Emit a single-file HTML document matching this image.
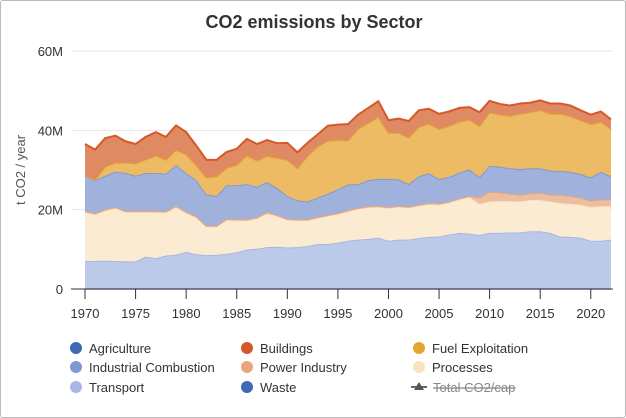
<!DOCTYPE html>
<html><head><meta charset="utf-8"><style>
body{margin:0;background:#fff;font-family:"Liberation Sans",sans-serif;}
#wrap{position:relative;width:624px;height:416px;border:1px solid #bbb;border-radius:3px;overflow:hidden;}
svg text{font-family:"Liberation Sans",sans-serif;}
</style></head><body>
<div id="wrap">
<svg id="chart" width="626" height="418">
<text x="313" y="27" text-anchor="middle" font-size="18" font-weight="bold" fill="#333">CO2 emissions by Sector</text>
<text transform="translate(24,169) rotate(-90)" text-anchor="middle" font-size="13" fill="#555">t CO2 / year</text>
<g id="grid"></g><g id="areas"></g><g id="axes"></g><g id="legend"></g>
</svg></div>
<script>
const years=[];for(let y=1970;y<=2022;y++)years.push(y);
const agriculture=Array(53).fill(0.1);
const waste=Array(53).fill(0.05);
const transport=[6.9,6.9,7.0,6.9,6.8,6.8,8.0,7.6,8.3,8.5,9.2,8.6,8.4,8.5,8.7,9.1,9.8,10.0,10.4,10.5,10.3,10.4,10.7,11.2,11.2,11.5,12.0,12.3,12.5,12.8,12.0,12.3,12.3,12.7,13.0,13.1,13.6,14.0,13.8,13.5,14.0,14.0,14.1,14.1,14.4,14.4,14.0,13.1,13.0,12.8,12.0,12.0,12.3];
const processes=[12.3,11.7,12.6,13.3,12.4,12.4,11.2,11.6,10.8,12.0,9.8,9.3,7.1,7.0,8.5,8.0,7.3,7.6,8.5,7.7,6.9,6.7,6.4,6.5,7.0,7.2,7.4,7.7,7.9,7.7,8.2,8.2,8.0,8.1,8.2,8.0,8.0,8.4,9.2,7.8,7.9,8.0,7.9,7.8,7.9,7.9,7.9,8.4,8.3,8.3,8.5,8.7,8.4];
const powerIndustry=[0.3,0.3,0.3,0.3,0.3,0.3,0.3,0.3,0.3,0.3,0.3,0.3,0.3,0.3,0.3,0.3,0.3,0.3,0.3,0.3,0.3,0.3,0.3,0.3,0.3,0.3,0.3,0.3,0.3,0.3,0.3,0.3,0.3,0.3,0.3,0.3,0.3,0.3,0.3,1.7,2.5,2.2,1.9,1.7,1.7,1.8,1.7,2.1,2.0,1.8,1.6,1.7,1.7];
const industrialCombustion=[8.9,8.4,8.5,8.9,9.6,8.9,9.6,9.6,9.5,10.3,9.8,9.1,7.9,7.5,8.5,8.6,8.9,7.7,7.6,6.8,5.8,4.8,4.5,4.9,5.4,6.0,6.5,6.0,6.6,6.8,7.1,6.7,5.7,7.2,7.5,6.2,6.2,6.5,6.7,5.1,6.5,6.5,6.4,6.5,6.3,6.2,6.1,6.0,6.1,5.9,5.9,7.0,5.9];
const fuelExploitation=[0.0,0.1,2.3,2.3,2.6,3.1,3.4,4.4,3.5,3.8,4.7,3.8,4.3,4.9,4.4,5.1,7.2,6.6,6.6,7.6,9.1,8.1,11.5,12.9,13.3,12.4,11.1,13.9,14.4,15.6,11.6,11.7,11.7,12.4,12.5,12.6,12.9,12.8,12.5,12.8,13.5,13.1,13.2,13.9,14.1,14.7,14.3,14.4,14.0,13.6,13.4,12.6,11.9];
const buildings=[8.0,7.6,7.2,6.8,5.4,4.9,5.7,5.9,5.8,6.2,5.6,4.9,4.4,4.2,4.0,4.1,4.2,4.2,4.0,3.7,4.3,4.0,3.3,3.0,3.8,3.9,4.1,3.6,3.8,4.0,3.2,3.6,4.2,4.2,3.8,3.8,3.6,3.5,3.2,3.5,2.9,2.7,2.6,2.6,2.4,2.4,2.6,2.6,2.7,2.5,2.4,2.6,2.4];
const yTicks=[0,20,40,60];
const yTickLabels=["0","20M","40M","60M"];
const xTicks=[1970,1975,1980,1985,1990,1995,2000,2005,2010,2015,2020];

const NS="http://www.w3.org/2000/svg";
const X0=84,X1=610,Y0=288,Y60=50;
const xs=y=>X0+(y-1970)*(X1-X0)/52;
const ys=v=>Y0-v*(Y0-Y60)/60;
function mk(tag,attrs,parent){const e=document.createElementNS(NS,tag);for(const k in attrs)e.setAttribute(k,attrs[k]);parent.appendChild(e);return e;}
const grid=document.getElementById('grid'),areas=document.getElementById('areas'),axes=document.getElementById('axes'),legend=document.getElementById('legend');
yTicks.forEach((t,i)=>{
 if(t>0){const l=mk('line',{x1:X0-14,x2:X1+2,y1:ys(t),y2:ys(t),stroke:'#e6e6e6'},grid);
 
 }
 const tx=mk('text',{x:62,y:ys(t)+5,'text-anchor':'end','font-size':13,fill:'#333'},axes);tx.textContent=yTickLabels[i];
 
 
});
const series=[
 {n:'agriculture',d:agriculture,c:'#3d69b5',f:'#3d69b5'},
 {n:'waste',d:waste,c:'#3d69b5',f:'#3d69b5'},
 {n:'transport',d:transport,c:'#a7b7e3',f:'#bccae9'},
 {n:'processes',d:processes,c:'#fbe2bf',f:'#fcebd3'},
 {n:'power-industry',d:powerIndustry,c:'#eaa57c',f:'#edbd9f'},
 {n:'industrial-combustion',d:industrialCombustion,c:'#7f9ad2',f:'#a0b1db'},
 {n:'fuel-exploitation',d:fuelExploitation,c:'#e6a532',f:'#ecbb64'},
 {n:'buildings',d:buildings,c:'#d5582a',f:'#e08a64'}];
let base=Array(years.length).fill(0);
series.forEach(s=>{
 const top=base.map((b,i)=>b+s.d[i]);
 let p='M'+years.map((y,i)=>xs(y)+','+ys(top[i])).join('L');
 const line=p;
 for(let i=years.length-1;i>=0;i--)p+='L'+xs(years[i])+','+ys(base[i]);
 const a=mk('path',{d:p+'Z',fill:s.f,stroke:'none'},areas);
 
 
 const l=mk('path',{d:line,fill:'none',stroke:s.c,'stroke-width':2,'stroke-linejoin':'round'},areas);
 
 
 base=top;
});
const ax=mk('line',{x1:X0-14,x2:X1+2,y1:Y0,y2:Y0,stroke:'#333','stroke-width':1},axes);


xTicks.forEach(t=>{
 const tk=mk('line',{x1:xs(t),x2:xs(t),y1:Y0,y2:Y0+10,stroke:'#333'},axes);
 
 
 const tx=mk('text',{x:xs(t),y:Y0+29,'text-anchor':'middle','font-size':13,fill:'#333'},axes);tx.textContent=t;
 
 
});
const leg=[['Agriculture','#3d69b5',75,347],['Buildings','#d5582a',246,347],['Fuel Exploitation','#e6a532',418,347],
['Industrial Combustion','#7f9ad2',75,366],['Power Industry','#eaa57c',246,366],['Processes','#fbe2bf',418,366],
['Transport','#a7b7e3',75,386],['Waste','#3d69b5',246,386]];
leg.forEach(e=>{
 const g=mk('g',{},legend);
 
 
 mk('circle',{cx:e[2],cy:e[3],r:6,fill:e[1]},g);
 const t=mk('text',{x:e[2]+13,y:e[3]+5,'font-size':13,fill:'#333'},g);t.textContent=e[0];
});
const g=mk('g',{},legend);


mk('line',{x1:410,x2:426,y1:386,y2:386,stroke:'#666','stroke-width':2},g);
mk('path',{d:'M418,381L423,389L413,389Z',fill:'#555'},g);
const tt=mk('text',{x:432,y:391,'font-size':13,fill:'#888','text-decoration':'line-through'},g);tt.textContent='Total CO2/cap';
</script>
</body></html>
